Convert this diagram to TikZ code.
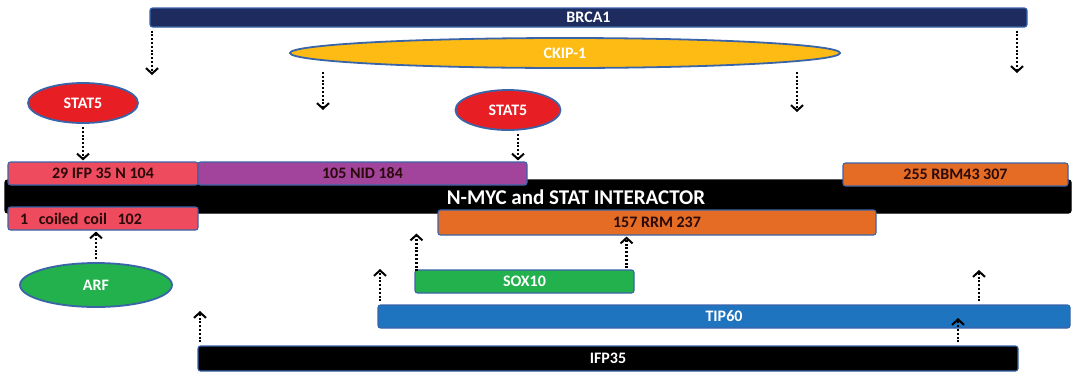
\documentclass[tikz,border=0pt]{standalone}
\usepackage{fontspec}
\setmainfont{Carlito}
\usetikzlibrary{positioning,shapes.geometric,arrows.meta}
\definecolor{navy}{HTML}{1E2B5E}
\definecolor{ckipyellow}{HTML}{FDBB14}
\definecolor{statred}{HTML}{E81E25}
\definecolor{edgeblue}{HTML}{3A64A8}
\definecolor{ifppink}{HTML}{EE4B5E}
\definecolor{nidpurple}{HTML}{A2449C}
\definecolor{rrmorange}{HTML}{E46C25}
\definecolor{arfgreen}{HTML}{22B14C}
\definecolor{tipblue}{HTML}{1F74BF}
\definecolor{domtext}{HTML}{2A0A0A}
\tikzset{
  bar/.style={draw=edgeblue, line width=1.1pt, rounded corners=2.5pt, inner sep=0pt,
    text=white, font=\bfseries\fontsize{16}{16}\selectfont},
  dombox/.style={bar, text=domtext},
  blob/.style={ellipse, draw=edgeblue, line width=1.8pt, inner sep=0pt,
    text=white, font=\bfseries\fontsize{16}{16}\selectfont},
  link/.style={line width=2.2pt, dash pattern=on 2pt off 1.8pt, shorten <=3pt, shorten >=1pt,
    -{Straight Barb[length=5.5pt,width=12pt,line width=2pt]}},
}

\begin{document}
\begin{tikzpicture}[x=1pt,y=-1pt]
  \useasboundingbox (0,0) rectangle (1073,376);

  % partners above the protein
  \node (brca) [bar, fill=navy, minimum width=877, minimum height=19] at (588.5,17.5) {BRCA1};
  \node (ckip) [blob, fill=ckipyellow, minimum width=550, minimum height=30] at (565,53) {CKIP-1};
  \node (stat5a) [blob, fill=statred, minimum width=110, minimum height=40] at (83,103) {STAT5};
  \node (stat5b) [blob, fill=statred, minimum width=105, minimum height=40] at (508,110) {STAT5};

  % the protein and its domains
  \node (nmi) [bar, draw=black, fill=black, minimum width=1066, minimum height=33] at (538,196.5) {};
  \node (nmitext) [text=white, font=\bfseries\fontsize{21}{21}\selectfont] at (576,197) {N-MYC and STAT INTERACTOR};
  \node (ifpn) [dombox, fill=ifppink, minimum width=190, minimum height=23] at (103,173.5) {29 IFP 35 N 104};
  \node (nid) [dombox, fill=nidpurple, minimum width=329, minimum height=23] at (362.5,173.5) {105 NID 184};
  \node (rbm) [dombox, fill=rrmorange, minimum width=225, minimum height=23] at (955.5,174.5) {255 RBM43 307};
  \node (coil) [dombox, fill=ifppink, text width=166, inner xsep=12, align=left, minimum height=23] at (103,218.5) {1~~coiled coil~~102};
  \node (rrm) [dombox, fill=rrmorange, minimum width=438, minimum height=25] at (657,222.5) {157 RRM 237};

  % partners below the protein
  \node (arf) [blob, fill=arfgreen, minimum width=152, minimum height=44] at (96,285) {ARF};
  \node (sox) [bar, fill=arfgreen, minimum width=219, minimum height=23] at (524.5,281.5) {SOX10};
  \node (tip) [bar, fill=tipblue, minimum width=692, minimum height=23] at (724,316.5) {TIP60};
  \node (ifp) [bar, draw=edgeblue, fill=black, minimum width=820, minimum height=25] at (608,358.5) {IFP35};

  % free arrow ends
  \coordinate (b1) at (152,76);
  \coordinate (b2) at (1017,74);
  \coordinate (c1) at (323,111);
  \coordinate (c2) at (797,113);
  \coordinate (t1) at (380,268);
  \coordinate (t2) at (979,269);
  \coordinate (i1) at (200,310);
  \coordinate (i2) at (958,317);

  \draw[link] (brca.south -| b1) -- (b1);
  \draw[link] (brca.south -| b2) -- (b2);
  \draw[link] (ckip.south -| c1) -- (c1);
  \draw[link] (ckip.south -| c2) -- (c2);
  \draw[link] (stat5a) -- (ifpn.north -| stat5a);
  \draw[link] ([xshift=10]stat5b.south) -- ([xshift=10]nid.north -| stat5b);
  \draw[link] ([xshift=2,yshift=-5]sox.north west) -- ([xshift=2,yshift=3]rrm.south -| sox.north west);
  \draw[link] ([xshift=-8,yshift=-2]sox.north east) -- ([xshift=-8]rrm.south -| sox.north east);
  \draw[link] (arf) -- (coil.south -| arf);
  \draw[link] (tip.north -| t1) -- (t1);
  \draw[link] (tip.north -| t2) -- (t2);
  \draw[link] (ifp.north -| i2) -- (i2);
  \draw[link] (ifp.north -| i1) -- (i1);
\end{tikzpicture}
\end{document}
